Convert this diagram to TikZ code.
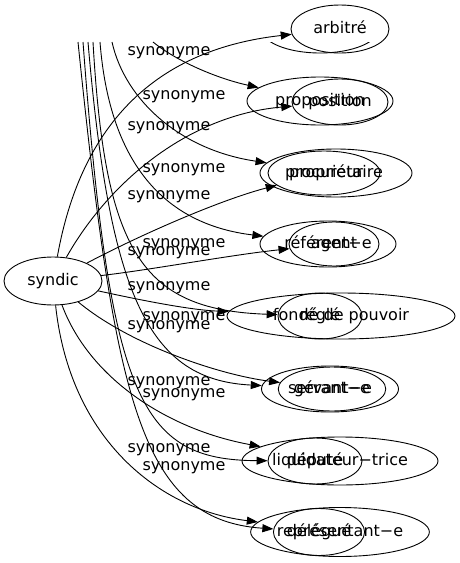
\documentclass[tikz,border=0pt]{standalone}
\usepackage{fontspec}
\setmainfont{DejaVu Sans}
\usetikzlibrary{shapes.geometric,arrows.meta}
\begin{document}
\begin{tikzpicture}[x=1pt,y=-1pt,line width=0.9pt,
	font=\fontsize{16}{19}\selectfont,
	word/.style={ellipse, draw, inner sep=0pt, text height=11.5pt, text depth=3.5pt},
	link/.style={-{Triangle[length=11pt,width=8pt]}},
	tag/.style={inner sep=0pt}]
	\useasboundingbox (0,0) rectangle (459,563);
	% part of a node cut off at the top
	\begin{scope}
		\clip (0,42) rectangle (459,563);
		\node (W0) at (320, 28)	[word, minimum width=119pt, minimum height=50pt]	{};
	\end{scope}
	% words
	\node (S)   at ( 53, 281)	[word, minimum width=98pt,  minimum height=48pt]	{syndic};
	\node (W1)  at (340,  29)	[word, minimum width=98pt,  minimum height=48pt]	{arbitré};
	\node (W2)  at (320, 101)	[word, minimum width=146pt, minimum height=48pt]	{proposition};
	\node (W3)  at (340, 102)	[word, minimum width=96pt,  minimum height=46pt]	{position};
	\node (W4)  at (336, 173)	[word, minimum width=152pt, minimum height=48pt]	{propriétaire};
	\node (W5)  at (324, 173)	[word, minimum width=112pt, minimum height=44pt]	{procureur};
	\node (W6)  at (328, 244)	[word, minimum width=136pt, minimum height=46pt]	{référent−e};
	\node (W7)  at (334, 244)	[word, minimum width=90pt,  minimum height=44pt]	{agent};
	\node (W8)  at (341, 316)	[word, minimum width=228pt, minimum height=46pt]	{fondé de pouvoir};
	\node (W9)  at (320, 316)	[word, minimum width=84pt,  minimum height=46pt]	{réglé};
	\node (W10) at (330, 389)	[word, minimum width=137pt, minimum height=46pt]	{servant−e};
	\node (W11) at (332, 389)	[word, minimum width=105pt, minimum height=44pt]	{gérant−e};
	\node (W12) at (340, 461)	[word, minimum width=196pt, minimum height=48pt]	{liquidateur−trice};
	\node (W13) at (315, 461)	[word, minimum width=94pt,  minimum height=46pt]	{député};
	\node (W14) at (340, 532)	[word, minimum width=176pt, minimum height=49pt]	{représentant−e};
	\node (W15) at (319, 532)	[word, minimum width=88pt,  minimum height=47pt]	{délégué};
	% free ends at the top
	\coordinate (U1) at (153, 42);
	\coordinate (U2) at (112, 42);
	\coordinate (U3) at (100, 42);
	\coordinate (U4) at ( 93, 42);
	\coordinate (U5) at ( 88, 42);
	\coordinate (U6) at ( 83, 42);
	\coordinate (U7) at ( 78, 42);
	% edges
	\draw[link] (S)   .. controls ( 80,130) and (150, 50) .. (W1);
	\draw[link] (U1)  .. controls (175, 60) and (215, 78) .. (W2);
	\draw[link] (S)   .. controls (110,180) and (190,115) .. (W3);
	\draw[link] (U2)  .. controls (125,100) and (180,150) .. (W4);
	\draw[link] (S)   .. controls (140,235) and (220,200) .. (W5);
	\draw[link] (U3)  .. controls (110,170) and (170,225) .. (W6);
	\draw[link] (S)   .. controls (150,270) and (230,255) .. (W7);
	\draw[link] (S)   .. controls (140,300) and (190,310) .. (W8);
	\draw[link] (U4)  .. controls (105,250) and (140,310) .. (W9);
	\draw[link] (U5)  .. controls (110,300) and (150,380) .. (W10);
	\draw[link] (S)   .. controls (130,345) and (220,375) .. (W11);
	\draw[link] (S)   .. controls ( 90,380) and (170,430) .. (W12);
	\draw[link] (U6)  .. controls (110,400) and (140,460) .. (W13);
	\draw[link] (S)   .. controls ( 70,440) and (160,510) .. (W14);
	\draw[link] (U7)  .. controls (115,400) and (140,520) .. (W15);
	% edge labels
	\node (N1)  at (169,  53)	[tag]	{synonyme};
	\node (N2)  at (184,  97)	[tag]	{synonyme};
	\node (N3)  at (169, 128)	[tag]	{synonyme};
	\node (N4)  at (184, 170)	[tag]	{synonyme};
	\node (N5)  at (169, 197)	[tag]	{synonyme};
	\node (N6)  at (184, 245)	[tag]	{synonyme};
	\node (N7)  at (169, 253)	[tag]	{synonyme};
	\node (N8)  at (169, 288)	[tag]	{synonyme};
	\node (N9)  at (184, 318)	[tag]	{synonyme};
	\node (N10) at (169, 327)	[tag]	{synonyme};
	\node (N11) at (169, 383)	[tag]	{synonyme};
	\node (N12) at (184, 395)	[tag]	{synonyme};
	\node (N13) at (169, 450)	[tag]	{synonyme};
	\node (N14) at (184, 468)	[tag]	{synonyme};
\end{tikzpicture}
\end{document}
